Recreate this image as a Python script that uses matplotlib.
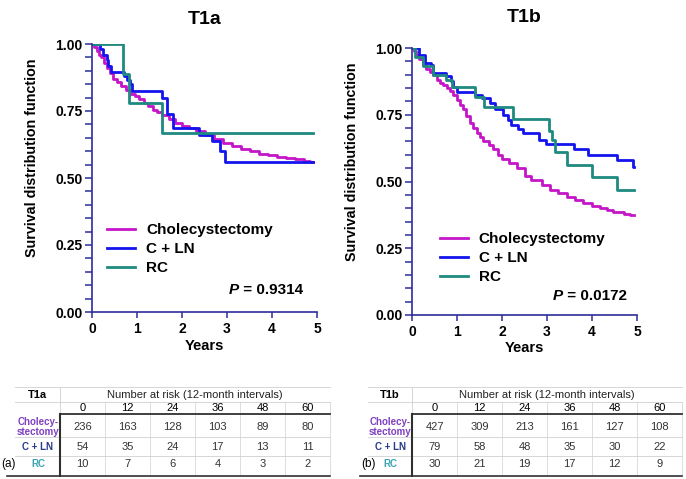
import matplotlib
matplotlib.use("Agg")
import matplotlib.pyplot as plt
from matplotlib.lines import Line2D

plt.rcParams['font.family'] = ['Liberation Sans', 'DejaVu Sans']

# ---- survival curves (step start times, survival from that time on) ----
t1a_chole_t = [0, 0.05, 0.1, 0.15, 0.2, 0.27, 0.33, 0.4, 0.47, 0.55, 0.65, 0.75, 0.85,
               0.95, 1.05, 1.15, 1.25, 1.35, 1.45, 1.55, 1.7, 1.85, 2.0, 2.15, 2.3, 2.5,
               2.7, 2.9, 3.1, 3.3, 3.5, 3.7, 3.9, 4.1, 4.3, 4.5, 4.7, 4.85, 4.92]
t1a_chole_s = [1.0, 0.99, 0.975, 0.96, 0.95, 0.93, 0.91, 0.89, 0.87, 0.86, 0.845, 0.83, 0.815,
               0.805, 0.795, 0.78, 0.77, 0.755, 0.745, 0.735, 0.72, 0.705, 0.695, 0.685, 0.675, 0.66,
               0.645, 0.63, 0.62, 0.61, 0.60, 0.59, 0.585, 0.58, 0.575, 0.57, 0.565, 0.56, 0.56]
t1a_cln_t = [0, 0.18, 0.25, 0.33, 0.36, 0.42, 0.70, 0.77, 0.84, 0.88, 1.56, 1.66, 1.81,
             2.38, 2.67, 2.84, 2.96, 4.92]
t1a_cln_s = [1.0, 0.98, 0.96, 0.94, 0.917, 0.895, 0.88, 0.865, 0.85, 0.826, 0.80, 0.74, 0.687,
             0.66, 0.637, 0.60, 0.56, 0.56]
t1a_rc_t = [0, 0.68, 0.83, 1.56, 4.92]
t1a_rc_s = [1.0, 0.889, 0.778, 0.667, 0.667]

t1b_chole_t = [0, 0.05, 0.1, 0.16, 0.24, 0.32, 0.4, 0.47, 0.55, 0.62, 0.69, 0.77, 0.84,
               0.92, 0.99, 1.07, 1.14, 1.21, 1.29, 1.36, 1.44, 1.51, 1.58, 1.7, 1.81, 1.9,
               2.0, 2.15, 2.33, 2.5, 2.65, 2.88, 3.07, 3.25, 3.44, 3.62, 3.81, 4.0, 4.18,
               4.33, 4.47, 4.7, 4.85, 4.93]
t1b_chole_s = [1.0, 0.99, 0.975, 0.96, 0.935, 0.92, 0.91, 0.90, 0.88, 0.87, 0.86, 0.85, 0.84,
               0.825, 0.805, 0.785, 0.77, 0.745, 0.72, 0.70, 0.682, 0.665, 0.65, 0.635, 0.62, 0.60,
               0.585, 0.57, 0.55, 0.52, 0.505, 0.487, 0.469, 0.456, 0.443, 0.43, 0.42, 0.41, 0.40,
               0.392, 0.386, 0.38, 0.375, 0.375]
t1b_cln_t = [0, 0.16, 0.29, 0.43, 0.47, 0.76, 0.87, 0.91, 0.99, 1.40, 1.56, 1.73, 1.84,
             2.02, 2.13, 2.20, 2.35, 2.46, 2.83, 2.98, 3.6, 3.9, 4.55, 4.9, 4.93]
t1b_cln_s = [1.0, 0.975, 0.945, 0.935, 0.905, 0.895, 0.875, 0.855, 0.837, 0.825, 0.812, 0.794, 0.77,
             0.75, 0.731, 0.712, 0.696, 0.681, 0.656, 0.64, 0.62, 0.60, 0.58, 0.555, 0.555]
t1b_rc_t = [0, 0.07, 0.24, 0.47, 0.75, 0.9, 1.41, 1.61, 2.24, 3.04, 3.11, 3.18, 3.44,
            4.0, 4.56, 4.93]
t1b_rc_s = [1.0, 0.967, 0.933, 0.90, 0.88, 0.853, 0.818, 0.778, 0.733, 0.69, 0.656, 0.61, 0.5625,
            0.515, 0.469, 0.469]

groups = ['Cholecystectomy', 'C + LN', 'RC']
p_values = ['0.9314', '0.0172']
panel_titles = ['T1a', 'T1b']

# ---- number at risk ----
risk_months = [0, 12, 24, 36, 48, 60]
t1a_risk_chole = [236, 163, 128, 103, 89, 80]
t1a_risk_cln = [54, 35, 24, 17, 13, 11]
t1a_risk_rc = [10, 7, 6, 4, 3, 2]
t1b_risk_chole = [427, 309, 213, 161, 127, 108]
t1b_risk_cln = [79, 58, 48, 35, 30, 22]
t1b_risk_rc = [30, 21, 19, 17, 12, 9]

curve_colors = ['#C415C8', '#1414EE', '#1E8A80']
row_colors = ['#8040C0', '#2A3A8C', '#3AA2B4']
spine_col = '#2E2E9A'

W, H = 686, 479
fig = plt.figure(figsize=(W / 100, H / 100), dpi=100)

# pixel-space overlay for the tables
tab = fig.add_axes([0, 0, 1, 1], zorder=0)
tab.set_xlim(0, W)
tab.set_ylim(H, 0)
tab.axis('off')

panels = [
    dict(rect=[92 / W, 1 - 312 / H, 225 / W, 268 / H], title_y=1 - 20 / H,
         curves=[(t1a_chole_t, t1a_chole_s), (t1a_cln_t, t1a_cln_s), (t1a_rc_t, t1a_rc_s)],
         leg=(0.067, 0.332), p=(0.938, 0.082), ylab=(-0.235, 0.575)),
    dict(rect=[412 / W, 1 - 315 / H, 225 / W, 267 / H], title_y=1 - 17 / H,
         curves=[(t1b_chole_t, t1b_chole_s), (t1b_cln_t, t1b_cln_s), (t1b_rc_t, t1b_rc_s)],
         leg=(0.124, 0.311), p=(0.956, 0.071), ylab=(-0.235, 0.575)),
]

for i, pan in enumerate(panels):
    ax = fig.add_axes(pan['rect'], zorder=2)
    ax.patch.set_alpha(0)
    for (t, s), c, name in zip(pan['curves'], curve_colors, groups):
        ax.step(t, s, where='post', color=c, lw=2.0, label=name)
    ax.set_xlim(0, 5)
    ax.set_ylim(0, 1)
    ax.set_xticks(range(6))
    ax.set_yticks([0, 0.25, 0.5, 0.75, 1.0])
    ax.set_yticklabels(['0.00', '0.25', '0.50', '0.75', '1.00'])
    ax.set_yticks([k * 0.05 for k in range(21)], minor=True)
    for sp in ['top', 'right']:
        ax.spines[sp].set_visible(False)
    for sp in ['left', 'bottom']:
        ax.spines[sp].set_color(spine_col)
        ax.spines[sp].set_linewidth(1.2)
    ax.tick_params(axis='both', which='both', colors=spine_col, width=1.1, labelcolor='black')
    ax.tick_params(axis='y', which='both', length=5, pad=2)
    ax.tick_params(axis='x', length=4, pad=3)
    for lab in ax.get_xticklabels() + ax.get_yticklabels():
        lab.set_fontweight('bold')
        lab.set_fontsize(10)
    ax.set_xlabel('Years', fontsize=10.5, fontweight='bold', labelpad=2)
    ax.set_ylabel('Survival distribution function', fontsize=10.3, fontweight='bold')
    ax.yaxis.set_label_coords(*pan['ylab'])
    fig.text(pan['rect'][0] + pan['rect'][2] / 2, pan['title_y'], panel_titles[i],
             ha='center', va='center', fontsize=14, fontweight='bold')
    handles = [Line2D([], [], color=c, lw=2) for c in curve_colors]
    ax.legend(handles, groups, loc='upper left', bbox_to_anchor=pan['leg'], frameon=False,
              prop={'weight': 'bold', 'size': 11}, handlelength=1.85, handletextpad=0.7,
              labelspacing=0.33, borderpad=0, borderaxespad=0)
    ptxt = ax.text(pan['p'][0], pan['p'][1], ' = ' + p_values[i], transform=ax.transAxes,
                   ha='right', va='center', fontsize=11, fontweight='bold')
    ax.annotate('P', xy=(0, 0.5), xycoords=ptxt, ha='right', va='center',
                fontsize=11, fontweight='bold', fontstyle='italic')

# ---- tables ----
tables = [
    dict(name='T1a', tag='(a)', x0=15, xs=60, cw=45, rows=[t1a_risk_chole, t1a_risk_cln, t1a_risk_rc], tagx=8),
    dict(name='T1b', tag='(b)', x0=368, xs=412, cw=45, rows=[t1b_risk_chole, t1b_risk_cln, t1b_risk_rc], tagx=369),
]
grey = '#D0D0D0'
dark = '#303030'
for tb in tables:
    x0, xs, cw = tb['x0'], tb['xs'], tb['cw']
    xe = xs + cw * len(risk_months)
    # grid lines
    for y in [387, 402, 437, 456]:
        tab.plot([x0, xe], [y, y], color=grey, lw=0.6)
    for k in range(1, len(risk_months) + 1):
        tab.plot([xs + k * cw, xs + k * cw], [402, 475], color=grey, lw=0.5)
    tab.plot([xs, xs], [387, 414], color=grey, lw=0.6)
    tab.plot([xs, xe], [414, 414], color=dark, lw=1.3)
    tab.plot([xs, xs], [414, 476], color=dark, lw=1.5)
    tab.plot([x0 - 8, xe], [475.5, 475.5], color=dark, lw=1.2)
    # header
    tab.text((x0 + xs) / 2, 394.5, tb['name'], ha='center', va='center', fontsize=8, fontweight='bold')
    tab.text((xs + xe) / 2, 394.5, 'Number at risk (12-month intervals)', ha='center', va='center',
             fontsize=8, color='#222222')
    for k, m in enumerate(risk_months):
        cx = xs + cw * (k + 0.5)
        tab.text(cx, 408, str(m), ha='center', va='center', fontsize=8)
    # rows
    row_y = [427, 447, 464]
    labels = ['Cholecy-\nstectomy', 'C + LN', 'RC']
    for r, (vals, lab, ry) in enumerate(zip(tb['rows'], labels, row_y)):
        tab.text((x0 + xs) / 2 + 0.5, ry, lab, ha='center', va='center', fontsize=7,
                 fontweight='bold', color=row_colors[r], linespacing=1.1)
        for k, v in enumerate(vals):
            tab.text(xs + cw * (k + 0.5), ry, str(v), ha='center', va='center', fontsize=8,
                     color='#333333')
    tab.text(tb['tagx'], 464, tb['tag'], ha='center', va='center', fontsize=8.5)

fig.savefig('out.png', dpi=100)
